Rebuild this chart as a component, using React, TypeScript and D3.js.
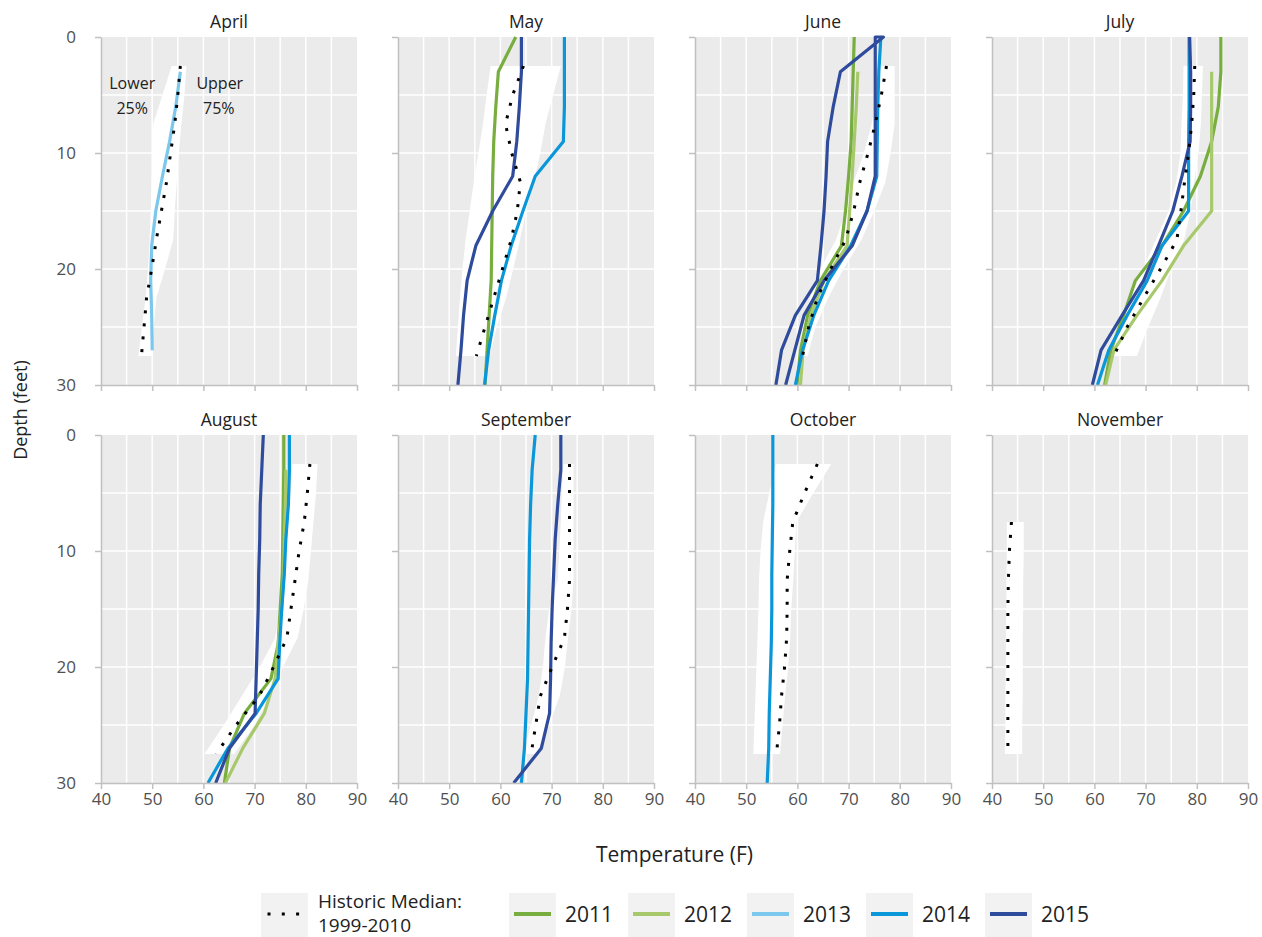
import React, { useRef, useEffect } from 'react';
import * as d3 from 'd3';

// depths (feet) and axis ticks
const sampleDepths = [0, 3, 6, 9, 12, 15, 18, 21, 24, 27, 30];
const histDepths = [2.5, 5, 7.5, 10, 12.5, 15, 17.5, 20, 22.5, 25, 27.5];
const tempTicks = [40, 50, 60, 70, 80, 90];
const depthTicks = [0, 10, 20, 30];
const years = ['2011', '2012', '2013', '2014', '2015'];
const yearColors = ['#78ad3f', '#a8c96b', '#7cc7ec', '#0a97d9', '#2f4b9c'];

// historic median and 25% / 75% band (1999-2010), temperature F at histDepths
const aprMedian = [55.5, 55.0, 54.4, 53.6, 52.8, 51.8, 50.8, 49.9, 48.9, 48.4, 47.9];
const aprLower = [53.8, 52.0, 50.2, 50.0, 49.9, 49.7, 49.5, 49.2, 48.7, 48.0, 47.3];
const aprUpper = [56.7, 56.3, 55.7, 55.2, 54.8, 54.4, 54.1, 52.5, 50.8, 50.3, 49.9];
const mayMedian = [64.5, 62.4, 61.0, 62.2, 63.9, 63.3, 62.1, 60.4, 58.7, 57.0, 55.3];
const mayLower = [58.1, 57.3, 56.6, 55.7, 54.8, 54.0, 53.2, 52.6, 52.1, 51.7, 51.3];
const mayUpper = [71.8, 70.3, 68.8, 67.8, 66.5, 65.0, 63.8, 62.5, 61.1, 59.3, 57.9];
const junMedian = [77.4, 76.4, 75.2, 73.8, 72.2, 71.0, 69.4, 66.5, 63.9, 62.2, 61.0];
const junLower = [76.0, 75.5, 74.5, 73.0, 71.0, 69.5, 67.5, 64.5, 62.5, 61.0, 60.2];
const junUpper = [79.0, 79.0, 79.0, 78.2, 77.2, 75.0, 72.5, 69.0, 66.0, 63.5, 62.0];
const julMedian = [79.6, 79.4, 79.0, 78.4, 77.6, 76.9, 76.1, 72.9, 69.6, 66.4, 63.8];
const julLower = [77.4, 77.3, 77.0, 76.8, 76.0, 74.5, 72.0, 69.5, 67.0, 65.0, 63.3];
const julUpper = [81.2, 81.0, 80.8, 80.3, 79.5, 78.8, 77.5, 75.0, 72.9, 70.5, 68.3];
const augMedian = [80.8, 80.3, 79.7, 78.7, 77.9, 77.1, 76.3, 73.7, 70.9, 66.4, 62.5];
const augLower = [77.4, 77.0, 76.5, 76.0, 75.5, 75.0, 74.0, 71.0, 67.5, 64.0, 60.2];
const augUpper = [82.3, 82.0, 81.5, 81.0, 80.5, 79.6, 78.4, 75.5, 73.0, 70.0, 66.0];
const sepMedian = [73.5, 73.5, 73.5, 73.5, 73.5, 73.1, 72.5, 70.1, 67.8, 66.9, 66.0];
const sepLower = [72.3, 72.0, 71.8, 71.5, 71.2, 69.5, 68.8, 68.3, 67.5, 66.0, 64.4];
const sepUpper = [74.3, 74.3, 74.3, 74.3, 74.3, 73.9, 73.2, 72.6, 71.6, 69.5, 67.0];
const octMedian = [63.9, 61.4, 59.1, 58.5, 58.0, 58.0, 57.9, 57.5, 56.9, 56.5, 55.9];
const octLower = [55.8, 54.5, 53.3, 52.8, 52.5, 52.4, 52.2, 52.0, 51.8, 51.6, 51.4];
const octUpper = [66.6, 63.1, 59.8, 59.5, 59.2, 58.8, 58.6, 58.2, 57.6, 57.1, 56.6];
const novMedian = [null, null, 43.8, 43.4, 43.2, 43.1, 43.1, 43.1, 43.1, 43.1, 43.1];
const novLower = [null, null, 42.9, 42.9, 42.8, 42.8, 42.7, 42.7, 42.6, 42.6, 42.5];
const novUpper = [null, null, 46.2, 46.2, 46.1, 46.1, 46.0, 46.0, 46.0, 45.9, 45.9];

// yearly profiles, temperature F at sampleDepths
const apr2013 = [null, 55.5, 54.6, 53.4, 52.0, 50.7, 49.9, 49.7, 49.9, 50.0, null];
const may2011 = [63.0, 59.6, 59.1, 58.7, 58.5, 58.4, 58.3, 58.2, 57.8, 57.4, 57.0];
const may2014 = [72.5, 72.5, 72.5, 72.3, 66.8, 64.4, 62.1, 60.2, 58.9, 57.7, 56.9];
const may2015 = [64.1, 64.1, 63.7, 63.2, 62.4, 58.5, 55.2, 53.5, 52.8, 52.3, 51.7];
const jun2011 = [71.1, 70.9, 70.7, 70.5, 70.0, 69.4, 68.6, 64.5, 62.0, 60.6, 59.9];
const jun2012 = [null, 71.8, 71.5, 71.1, 70.7, 70.2, 69.7, 65.2, 62.6, 61.1, 60.6];
const jun2014 = [76.3, 75.9, 75.7, 75.6, 75.5, 73.6, 70.4, 66.1, 63.2, 61.0, 59.6];
const jun2015a = [75.2, 75.2, 75.2, 75.2, 75.2, 73.6, 70.7, 65.2, 61.3, 59.5, 57.7];
const jun2015b = [76.8, 68.4, 67.0, 65.9, 65.6, 65.2, 64.6, 63.9, 59.6, 56.9, 55.8];
const jul2011 = [84.7, 84.7, 84.2, 82.9, 80.7, 77.4, 73.2, 68.0, 65.7, 63.2, 62.0];
const jul2012 = [null, 82.9, 82.9, 82.9, 82.9, 82.9, 77.4, 73.2, 68.3, 63.8, 62.2];
const jul2014 = [78.5, 78.5, 78.5, 78.4, 78.4, 78.4, 73.2, 70.3, 66.4, 62.8, 60.6];
const jul2015 = [78.6, 78.8, 78.8, 78.7, 77.1, 75.3, 72.5, 69.6, 65.4, 61.3, 59.6];
const aug2011 = [75.7, 75.7, 75.6, 75.5, 75.4, 75.0, 74.6, 73.2, 68.0, 65.1, 64.1];
const aug2012 = [null, 76.1, 76.0, 75.8, 75.7, 75.3, 74.6, 74.0, 71.9, 67.7, 64.3];
const aug2014 = [76.8, 76.8, 76.6, 76.1, 75.8, 75.3, 74.9, 74.6, 70.3, 64.8, 60.9];
const aug2015 = [71.7, 71.4, 71.1, 71.0, 70.8, 70.7, 70.5, 70.3, 70.1, 65.1, 62.4];
const sep2014 = [66.8, 66.2, 65.9, 65.7, 65.6, 65.5, 65.4, 65.3, 65.0, 64.7, 64.1];
const sep2015 = [71.8, 71.8, 71.2, 70.7, 70.4, 70.1, 69.9, 69.8, 69.6, 68.0, 62.6];
const oct2014 = [55.2, 55.2, 55.2, 55.1, 55.0, 55.0, 54.9, 54.7, 54.5, 54.4, 54.1];

type Pt = [number, number];
const profile = (vals: (number | null)[]): Pt[] =>
  vals.map((v, i) => [v, sampleDepths[i]] as [number | null, number])
    .filter(d => d[0] != null) as Pt[];

// June 2015 has two casts in one series: first one up from the bottom, then the second one down
const june2015: Pt[] = profile(jun2015a).reverse().concat(profile(jun2015b));

const panels = [
  { month: 'April', median: aprMedian, lower: aprLower, upper: aprUpper, lines: [['2013', profile(apr2013)]] },
  { month: 'May', median: mayMedian, lower: mayLower, upper: mayUpper, lines: [['2011', profile(may2011)], ['2014', profile(may2014)], ['2015', profile(may2015)]] },
  { month: 'June', median: junMedian, lower: junLower, upper: junUpper, lines: [['2011', profile(jun2011)], ['2012', profile(jun2012)], ['2014', profile(jun2014)], ['2015', june2015]] },
  { month: 'July', median: julMedian, lower: julLower, upper: julUpper, lines: [['2011', profile(jul2011)], ['2012', profile(jul2012)], ['2014', profile(jul2014)], ['2015', profile(jul2015)]] },
  { month: 'August', median: augMedian, lower: augLower, upper: augUpper, lines: [['2011', profile(aug2011)], ['2012', profile(aug2012)], ['2014', profile(aug2014)], ['2015', profile(aug2015)]] },
  { month: 'September', median: sepMedian, lower: sepLower, upper: sepUpper, lines: [['2014', profile(sep2014)], ['2015', profile(sep2015)]] },
  { month: 'October', median: octMedian, lower: octLower, upper: octUpper, lines: [['2014', profile(oct2014)]] },
  { month: 'November', median: novMedian, lower: novLower, upper: novUpper, lines: [] },
] as { month: string; median: (number | null)[]; lower: (number | null)[]; upper: (number | null)[]; lines: [string, Pt[]][] }[];

const FONT = '"Segoe UI", "Open Sans", sans-serif';

const App = () => {
  const ref = useRef<SVGSVGElement>(null);

  useEffect(() => {
    document.body.style.margin = '0';
    const svg = d3.select(ref.current);
    svg.selectAll('*').remove();

    const left = 101, top = 37;
    const panelW = 256, panelH = 348, gapX = 41, gapY = 50;

    const x = d3.scaleLinear().domain([40, 90]).range([0, panelW]);
    const y = d3.scaleLinear().domain([0, 30]).range([0, panelH]);
    const color = d3.scaleOrdinal<string, string>().domain(years).range(yearColors);

    const line = d3.line<Pt>().x(d => x(d[0])).y(d => y(d[1]));

    panels.forEach((p, k) => {
      const col = k % 4, row = Math.floor(k / 4);
      const g = svg.append('g')
        .attr('transform', `translate(${left + col * (panelW + gapX)},${top + row * (panelH + gapY)})`);

      g.append('rect').attr('width', panelW).attr('height', panelH).attr('fill', '#ebebeb');

      g.selectAll('.vgrid').data(d3.range(45, 90, 5)).enter().append('line')
        .attr('x1', d => x(d)).attr('x2', d => x(d)).attr('y1', 0).attr('y2', panelH)
        .attr('stroke', '#fff').attr('stroke-width', 1.5);
      g.selectAll('.hgrid').data(d3.range(5, 30, 5)).enter().append('line')
        .attr('y1', d => y(d)).attr('y2', d => y(d)).attr('x1', 0).attr('x2', panelW)
        .attr('stroke', '#fff').attr('stroke-width', 1.5);

      // 25% - 75% band
      const idx = histDepths.map((_, i) => i);
      g.append('path')
        .datum(idx)
        .attr('fill', '#fff')
        .attr('d', d3.area<number>()
          .defined(i => p.lower[i] != null)
          .y(i => y(histDepths[i]))
          .x0(i => x(p.lower[i] as number))
          .x1(i => x(p.upper[i] as number)));

      p.lines.forEach(([yr, pts]) => {
        g.append('path')
          .datum(pts)
          .attr('fill', 'none')
          .attr('stroke', color(yr))
          .attr('stroke-width', 3.2)
          .attr('stroke-linejoin', 'round')
          .attr('d', line);
      });

      g.append('path')
        .datum(idx)
        .attr('fill', 'none')
        .attr('stroke', '#000')
        .attr('stroke-width', 3)
        .attr('stroke-dasharray', '3 10')
        .attr('d', d3.line<number>()
          .defined(i => p.median[i] != null)
          .x(i => x(p.median[i] as number))
          .y(i => y(histDepths[i])));

      const yAxis = d3.axisLeft(y).tickValues(depthTicks).tickSize(6).tickSizeOuter(0).tickPadding(19);
      if (col > 0) yAxis.tickFormat(() => '');
      const xAxis = d3.axisBottom(x).tickValues(tempTicks).tickSize(6).tickSizeOuter(0).tickPadding(4);
      if (row === 0) xAxis.tickFormat(() => '');

      [g.append('g').call(yAxis), g.append('g').attr('transform', `translate(0,${panelH})`).call(xAxis)]
        .forEach(a => {
          a.select('.domain').attr('stroke', '#c0c0c0').attr('stroke-width', 1.5);
          a.selectAll('line').attr('stroke', '#c0c0c0').attr('stroke-width', 1.5);
          a.selectAll('text').attr('fill', '#505050').style('font-size', '17px').style('font-family', FONT);
        });

      g.append('text')
        .attr('x', panelW / 2).attr('y', -9)
        .attr('text-anchor', 'middle')
        .style('font-family', FONT).style('font-size', '17.5px').attr('fill', '#222')
        .text(p.month);

      if (k === 0) {
        const note = [['Lower', 46.1, 4.5], ['25%', 46.1, 6.65], ['Upper', 63.2, 4.5], ['75%', 63.0, 6.65]] as [string, number, number][];
        g.selectAll('.note').data(note).enter().append('text')
          .attr('x', d => x(d[1])).attr('y', d => y(d[2]))
          .attr('text-anchor', 'middle')
          .style('font-family', FONT).style('font-size', '16px').attr('fill', '#222')
          .text(d => d[0]);
      }
    });

    // axis titles
    svg.append('text')
      .attr('transform', `translate(27,${top + panelH + gapY / 2}) rotate(-90)`)
      .attr('text-anchor', 'middle')
      .style('font-family', FONT).style('font-size', '18px').attr('fill', '#222')
      .text('Depth (feet)');
    svg.append('text')
      .attr('x', left + (4 * panelW + 3 * gapX) / 2).attr('y', 862)
      .attr('text-anchor', 'middle')
      .style('font-family', FONT).style('font-size', '21px').attr('fill', '#222')
      .text('Temperature (F)');

    // legend
    const lg = svg.append('g').attr('transform', 'translate(0,893)');
    lg.append('rect').attr('x', 261).attr('width', 47).attr('height', 44).attr('fill', '#f2f2f2');
    lg.append('line').attr('x1', 267.5).attr('x2', 300).attr('y1', 21).attr('y2', 21)
      .attr('stroke', '#000').attr('stroke-width', 3).attr('stroke-dasharray', '3 11.3');
    lg.append('text').attr('x', 318).attr('y', 15)
      .style('font-family', FONT).style('font-size', '19px').attr('fill', '#222')
      .text('Historic Median:');
    lg.append('text').attr('x', 318).attr('y', 39)
      .style('font-family', FONT).style('font-size', '19px').attr('fill', '#222')
      .text('1999-2010');

    const items = lg.selectAll('.item').data(years).enter().append('g')
      .attr('transform', (d, i) => `translate(${509 + i * 119},0)`);
    items.append('rect').attr('width', 47).attr('height', 44).attr('fill', '#f2f2f2');
    items.append('line').attr('x1', 5).attr('x2', 42).attr('y1', 21).attr('y2', 21)
      .attr('stroke', d => color(d)).attr('stroke-width', 4);
    items.append('text').attr('x', 56).attr('y', 29)
      .style('font-family', FONT).style('font-size', '21px').attr('fill', '#222')
      .text(d => d);
  }, []);

  return <svg ref={ref} width={1262} height={937} style={{ display: 'block', background: '#fff' }} />;
};

export default App;
